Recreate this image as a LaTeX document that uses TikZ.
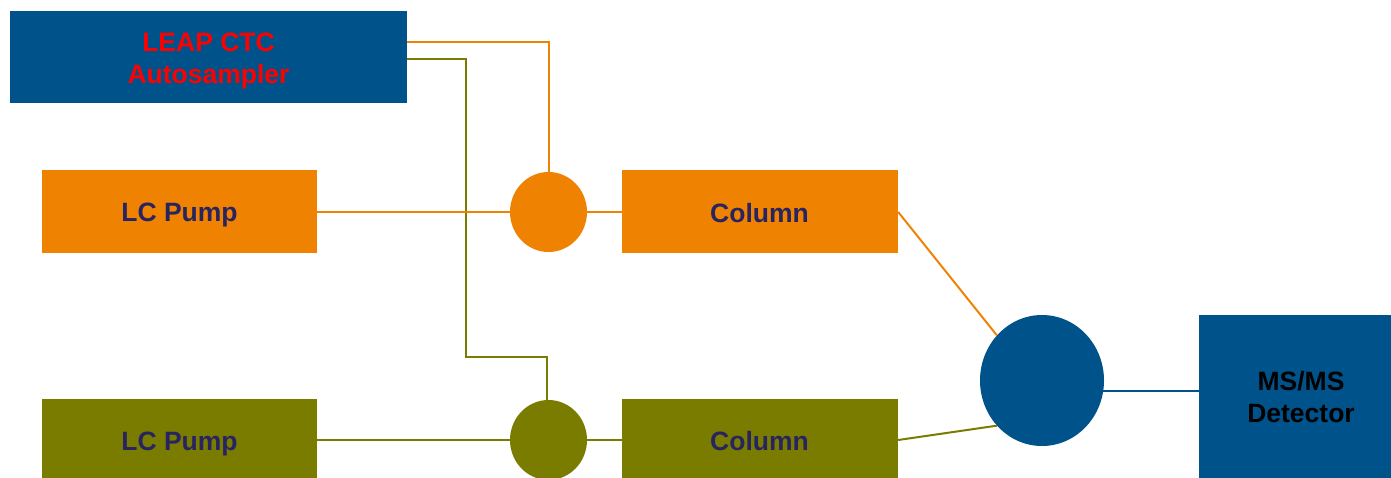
\documentclass[tikz,border=0pt]{standalone}
\usepackage{fontspec}
\setmainfont{Liberation Sans}
\usetikzlibrary{shapes.geometric}
\definecolor{msblue}{RGB}{0,83,138}
\definecolor{orng}{RGB}{239,130,0}
\definecolor{olive}{RGB}{122,124,0}
\definecolor{navy}{RGB}{40,36,96}
\begin{document}
\begin{tikzpicture}[x=1pt,y=-1pt,
  box/.style={rectangle, inner sep=0pt},
  lbl/.style={anchor=base, inner sep=0pt, font=\fontsize{26.5}{31}\selectfont\bfseries},
  valve/.style={ellipse, inner sep=0pt, minimum width=77pt, minimum height=80pt},
  oline/.style={draw=orng, line width=2pt},
  gline/.style={draw=olive, line width=2pt},
  bline/.style={draw=msblue, line width=2pt}]
\clip (0,0) rectangle (1391,478);
\fill[white] (0,0) rectangle (1391,478);
% boxes
\node[box, fill=msblue, minimum width=397pt, minimum height=92pt] (auto) at (208.5,57) {};
\node[box, fill=orng, minimum width=275pt, minimum height=83pt] (opump) at (179.5,212) {};
\node[box, fill=orng, minimum width=276pt, minimum height=83pt] (ocol) at (760,212) {};
\node[box, fill=olive, minimum width=275pt, minimum height=83pt] (gpump) at (179.5,440) {};
\node[box, fill=olive, minimum width=276pt, minimum height=83pt] (gcol) at (760,440) {};
\node[box, fill=msblue, minimum width=196pt, minimum height=164pt] (ms) at (1297,397) {};
% labels
\node[lbl, text=red] (autoa) at (208.5,52) {LEAP CTC};
\node[lbl, text=red] (autob) at (208.5,84) {Autosampler};
\node[lbl, text=navy] (opumpt) at (179.5,222) {LC Pump};
\node[lbl, text=navy] (ocolt) at (759.5,222.5) {Column};
\node[lbl, text=navy] (gpumpt) at (179.5,450) {LC Pump};
\node[lbl, text=navy] (gcolt) at (759.5,450) {Column};
\node[lbl, text=black] (msa) at (1301,390) {MS/MS};
\node[lbl, text=black] (msb) at (1301,422) {Detector};
% valves
\node[valve, fill=orng] (ovalve) at (548.5,212) {};
\node[valve, fill=olive] (gvalve) at (548.5,440) {};
\node[ellipse, inner sep=0pt, minimum width=124pt, minimum height=131pt, fill=msblue] (mix) at (1042,380.5) {};
\coordinate (gbend) at (466,357);
% connectors
\path[oline] ([yshift=15pt]auto.east) -| (ovalve.north);
\path[gline] ([yshift=-2pt]auto.east) -| (gbend) -| ([xshift=-2pt]gvalve.north);
\path[oline] (opump.east) -- (ovalve.west);
\path[oline] (ovalve.east) -- (ocol.west);
\path[gline] (gpump.east) -- (gvalve.west);
\path[gline] (gvalve.east) -- (gcol.west);
\path[oline] (ocol.east) -- (mix.135);
\path[gline] (gcol.east) -- (mix.225);
\path[bline] (mix.-10) -- (mix.-10 -| ms.west);
\end{tikzpicture}
\end{document}
